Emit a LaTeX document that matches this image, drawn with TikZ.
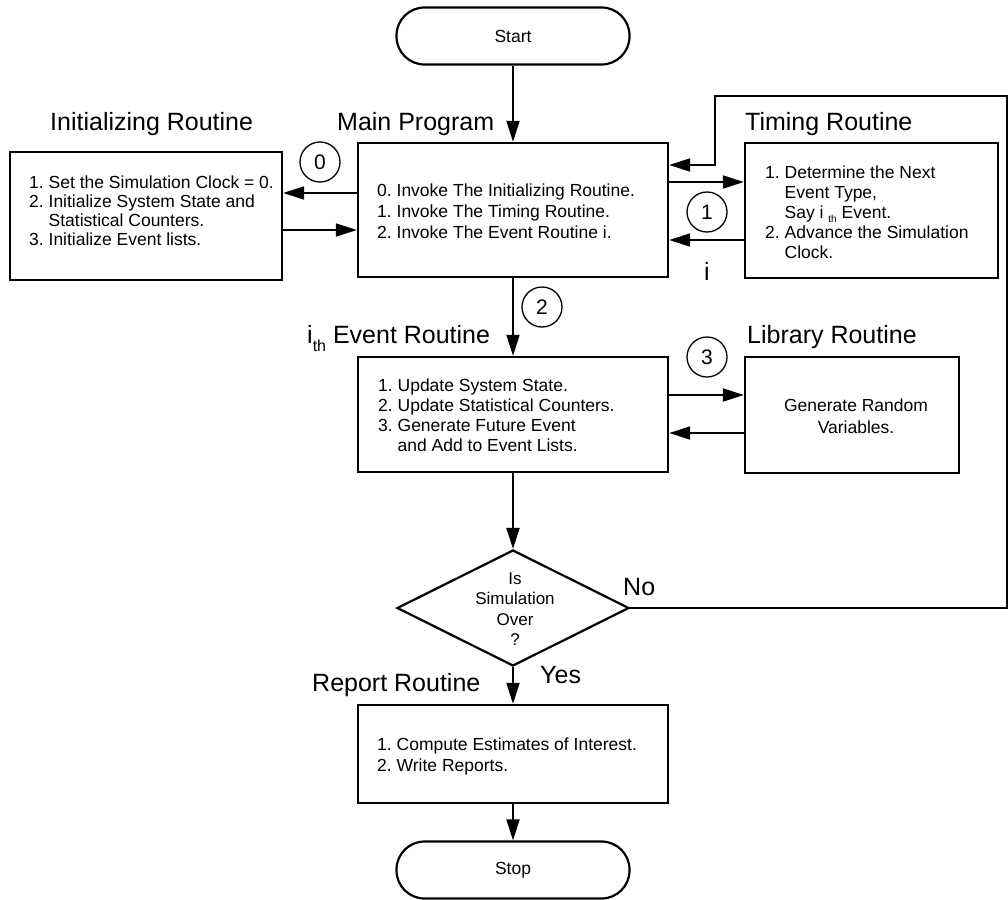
\documentclass[tikz,border=0pt]{standalone}
\usepackage{fontspec}
\setmainfont{Liberation Sans}
\usetikzlibrary{arrows.meta,shapes.geometric}
\begin{document}
\frenchspacing
\begin{tikzpicture}[x=1pt,y=-1pt,
  frame/.style={draw, line width=2.4pt, inner sep=0pt},
  term/.style={draw, line width=2.2pt, rounded corners=28pt, inner sep=0pt,
    minimum width=233pt, minimum height=57pt, font=\fontsize{17.5}{20}\selectfont},
  link/.style={line width=2pt, -{Triangle[length=21pt,width=13pt]}},
  plain/.style={line width=2pt},
  title/.style={anchor=base west, inner sep=0pt, font=\fontsize{25}{30}\selectfont},
  body/.style={anchor=north west, inner sep=0pt, align=left},
  num/.style={circle, draw, line width=1.3pt, minimum size=40pt, inner sep=0pt,
    font=\fontsize{21}{21}\selectfont},
]
\path[use as bounding box] (0,0) rectangle (1008,899);

% terminals
\node[term] (start) at (513,36) {Start};
\node[term] (stop) at (513,870) {Stop};

% routine boxes
\node[frame, minimum width=272pt, minimum height=128pt] (init) at (146,216) {};
\node[frame, minimum width=310pt, minimum height=134pt] (main) at (513,210) {};
\node[frame, minimum width=253pt, minimum height=135pt] (timing) at (871.5,210.5) {};
\node[frame, minimum width=310pt, minimum height=115pt] (event) at (513,414.5) {};
\node[frame, minimum width=214pt, minimum height=116pt] (library) at (852,415) {};
\node[frame, minimum width=310pt, minimum height=98pt] (report) at (513,754) {};
\node[draw, diamond, line width=2.2pt, inner sep=0pt, aspect=2,
      minimum width=232pt, minimum height=116pt] (dia) at (513,608) {};

% titles
\node[title] (initT) at (50,130) {Initializing Routine};
\node[title] (mainT) at (337,130) {Main Program};
\node[title] (timingT) at (745,130) {Timing Routine};
\node[title] (eventT) at (307,343) {i\raisebox{-8pt}{\fontsize{16}{16}\selectfont th} Event Routine};
\node[title] (libT) at (747,343) {Library Routine};
\node[title] (reportT) at (312,691) {Report Routine};

% box contents
\node[body, font=\fontsize{17.5}{19}\selectfont] (initTxt) at (29,175)
  {\rule{0pt}{13pt}1. Set the Simulation Clock = 0.\\
   2. Initialize System State and\\
   \hphantom{1. }Statistical Counters.\\
   3. Initialize Event lists.};
\node[body, font=\fontsize{17.5}{21}\selectfont] (mainTxt) at (377,183)
  {\rule{0pt}{13pt}0. Invoke The Initializing Routine.\\
   1. Invoke The Timing Routine.\\
   2. Invoke The Event Routine i.};
\node[body, font=\fontsize{17.5}{20}\selectfont] (timingTxt) at (765,165)
  {\rule{0pt}{13pt}1. Determine the Next\\
   \hphantom{1. }Event Type,\\
   \hphantom{1. }Say i \raisebox{-4pt}{\fontsize{10}{10}\selectfont th}\ Event.\\
   2. Advance the Simulation\\
   \hphantom{1. }Clock.};
\node[body, font=\fontsize{17.5}{20}\selectfont] (eventTxt) at (378,378)
  {\rule{0pt}{13pt}1. Update System State.\\
   2. Update Statistical Counters.\\
   3. Generate Future Event\\
   \hphantom{1. }and Add to Event Lists.};
\node[anchor=north, inner sep=0pt, align=center, font=\fontsize{17.5}{22}\selectfont]
  (libTxt) at (856,398)
  {\rule{0pt}{13pt}Generate Random\\Variables.};
\node[body, font=\fontsize{17.5}{21}\selectfont] (reportTxt) at (377,737)
  {\rule{0pt}{13pt}1. Compute Estimates of Interest.\\
   2. Write Reports.};
\node[anchor=north, inner sep=0pt, align=center, font=\fontsize{17}{20.4}\selectfont]
  (diaTxt) at (515,571.5)
  {\rule{0pt}{12.5pt}Is\\Simulation\\Over\\?};

% step numbers
\node[num] (n0) at (320,162) {0};
\node[num] (n1) at (707,212) {1};
\node[num] (n2) at (542,307) {2};
\node[num] (n3) at (707,357) {3};

% branch labels
\node[title] (noL) at (623,595) {No};
\node[title] (yesL) at (540,683) {Yes};
\node[title, anchor=base] (iL) at (707,280) {i};

% main flow
\draw[link] (start.south) -- (main.north);
\draw[link] (main.south) -- (event.north);
\draw[link] (event.south) -- (dia.north);
\draw[link] (dia.south) -- (report.north);
\draw[link] (report.south) -- (stop.north);

% calls and returns
\draw[link] (main.west |- 0,193) -- (init.east |- 0,193);
\draw[link] (init.east |- 0,230) -- (main.west |- 0,230);
\draw[link] (main.east |- 0,182) -- (timing.west |- 0,182);
\draw[link] (timing.west |- 0,240) -- (main.east |- 0,240);
\draw[link] (event.east |- 0,395) -- (library.west |- 0,395);
\draw[link] (library.west |- 0,433) -- (event.east |- 0,433);

% loop back when the run is not over
\coordinate (loopA) at (1007,608);
\coordinate (loopB) at (1007,96);
\coordinate (loopC) at (715,96);
\coordinate (loopD) at (715,165);
\draw[link, rounded corners=0pt] (dia.east) -- (loopA) -- (loopB) -- (loopC) -- (loopD)
  -- (main.east |- loopD);
\end{tikzpicture}
\end{document}
